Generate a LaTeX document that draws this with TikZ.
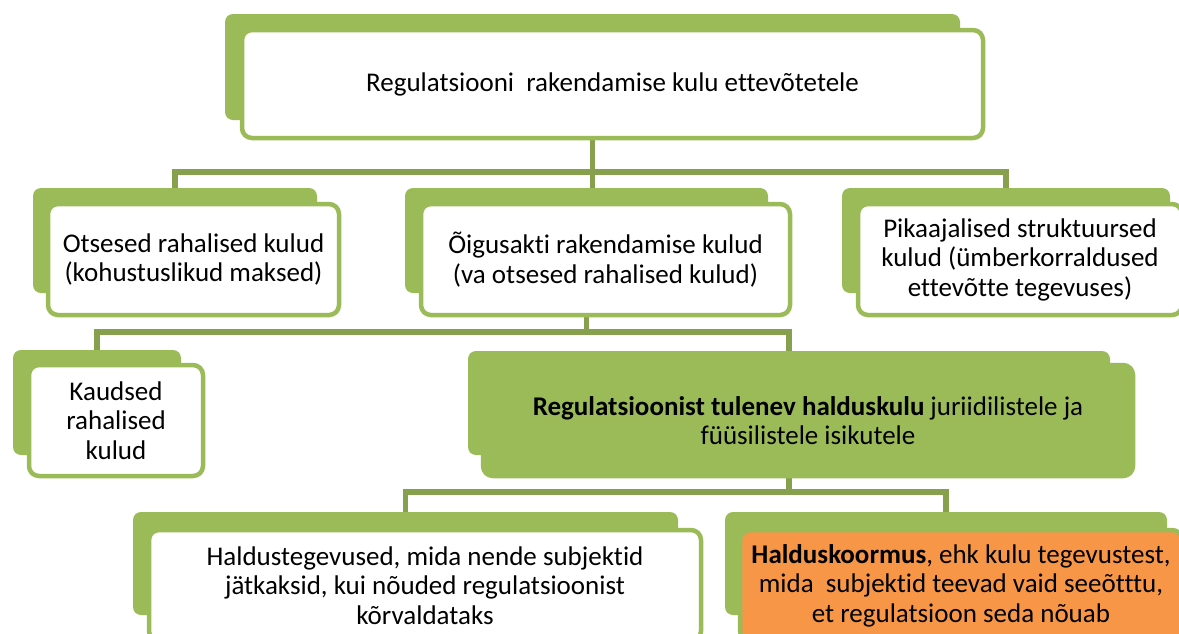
\documentclass[tikz,border=0pt]{standalone}
\usepackage{fontspec}
\setmainfont{Carlito}[Ligatures=NoCommon]
\usepackage{tikz}
\usepackage{xcolor}
\usetikzlibrary{backgrounds}
\definecolor{lgreen}{HTML}{9BBB59}
\definecolor{dgreen}{HTML}{86A04D}
\definecolor{lorange}{HTML}{F79646}
\begin{document}
\begin{tikzpicture}[x=1pt, y=-1pt,
  every node/.style={font=\fontsize{27}{29.5}\selectfont, align=center, inner sep=0pt},
  back/.style={fill=lgreen, rounded corners=8pt},
  front/.style={draw=lgreen, line width=4.5pt, fill=white, rounded corners=10pt},
  conn/.style={draw=dgreen, line width=5.5pt}]
\useasboundingbox (0,0) rectangle (1179,633);
\node[back, minimum width=735, minimum height=106] (topb) at (592.5,67) {};
\node[front, minimum width=741, minimum height=108] (top) at (612.5,84) {Regulatsiooni~ rakendamise kulu ettevõtetele};
\node[back, minimum width=284, minimum height=105] (Ab) at (175,240.5) {};
\node[front, minimum width=291, minimum height=111] (A) at (193.5,259.5) {Otsesed rahalised kulud\\(kohustuslikud maksed)};
\node[back, minimum width=363, minimum height=105] (Bb) at (586.5,240.5) {};
\node[front, minimum width=369, minimum height=111] (B) at (605.5,259.5) {Õigusakti rakendamise kulud\\(va otsesed rahalised kulud)};
\node[back, minimum width=328, minimum height=105] (Cb) at (1006,240.5) {};
\node[front, minimum width=324, minimum height=111] (C) at (1020,259.5) {Pikaajalised struktuursed\\kulud (ümberkorraldused\\ettevõtte tegevuses)};
\node[back, minimum width=168, minimum height=105] (Db) at (97,402.5) {};
\node[front, minimum width=174, minimum height=111] (D) at (116,420.5) {Kaudsed\\rahalised\\kulud};
\node[back, minimum width=642, minimum height=104] (Eb) at (789,403) {};
\node[front, fill=lgreen, minimum width=650, minimum height=111] (E) at (808,420.5) {\textbf{Regulatsioonist tulenev halduskulu} juriidilistele ja\\füüsilistele isikutele};
\node[back, minimum width=545, minimum height=103] (Fb) at (405.5,563.5) {};
\node[front, minimum width=552, minimum height=111] (F) at (425,585.5) {Haldustegevused, mida nende subjektid\\jätkaksid, kui nõuded regulatsioonist\\kõrvaldataks};
\node[back, minimum width=442, minimum height=103] (Gb) at (946,563.5) {};
\node[front, fill=lorange, minimum width=442, minimum height=111] (G) at (961,585.5) {\textbf{Halduskoormus}, ehk kulu tegevustest,\\mida~ subjektid teevad vaid seeõtttu,\\et regulatsioon seda nõuab};
\begin{pgfonlayer}{background}
\draw[conn] (topb.south) -- (topb.south |- Bb.north);
\draw[conn] (Ab.north) -- ++(0,-16) -| (Cb.north);
\draw[conn] (Bb.south) -- (Bb.south |- 0,332);
\draw[conn] (Db.north) -- ++(0,-18) -| (Eb.north);
\draw[conn] (Eb.south) -- (Eb.south |- 0,492);
\draw[conn] (Fb.north) -- ++(0,-20) -| (Gb.north);
\end{pgfonlayer}
\end{tikzpicture}
\end{document}
